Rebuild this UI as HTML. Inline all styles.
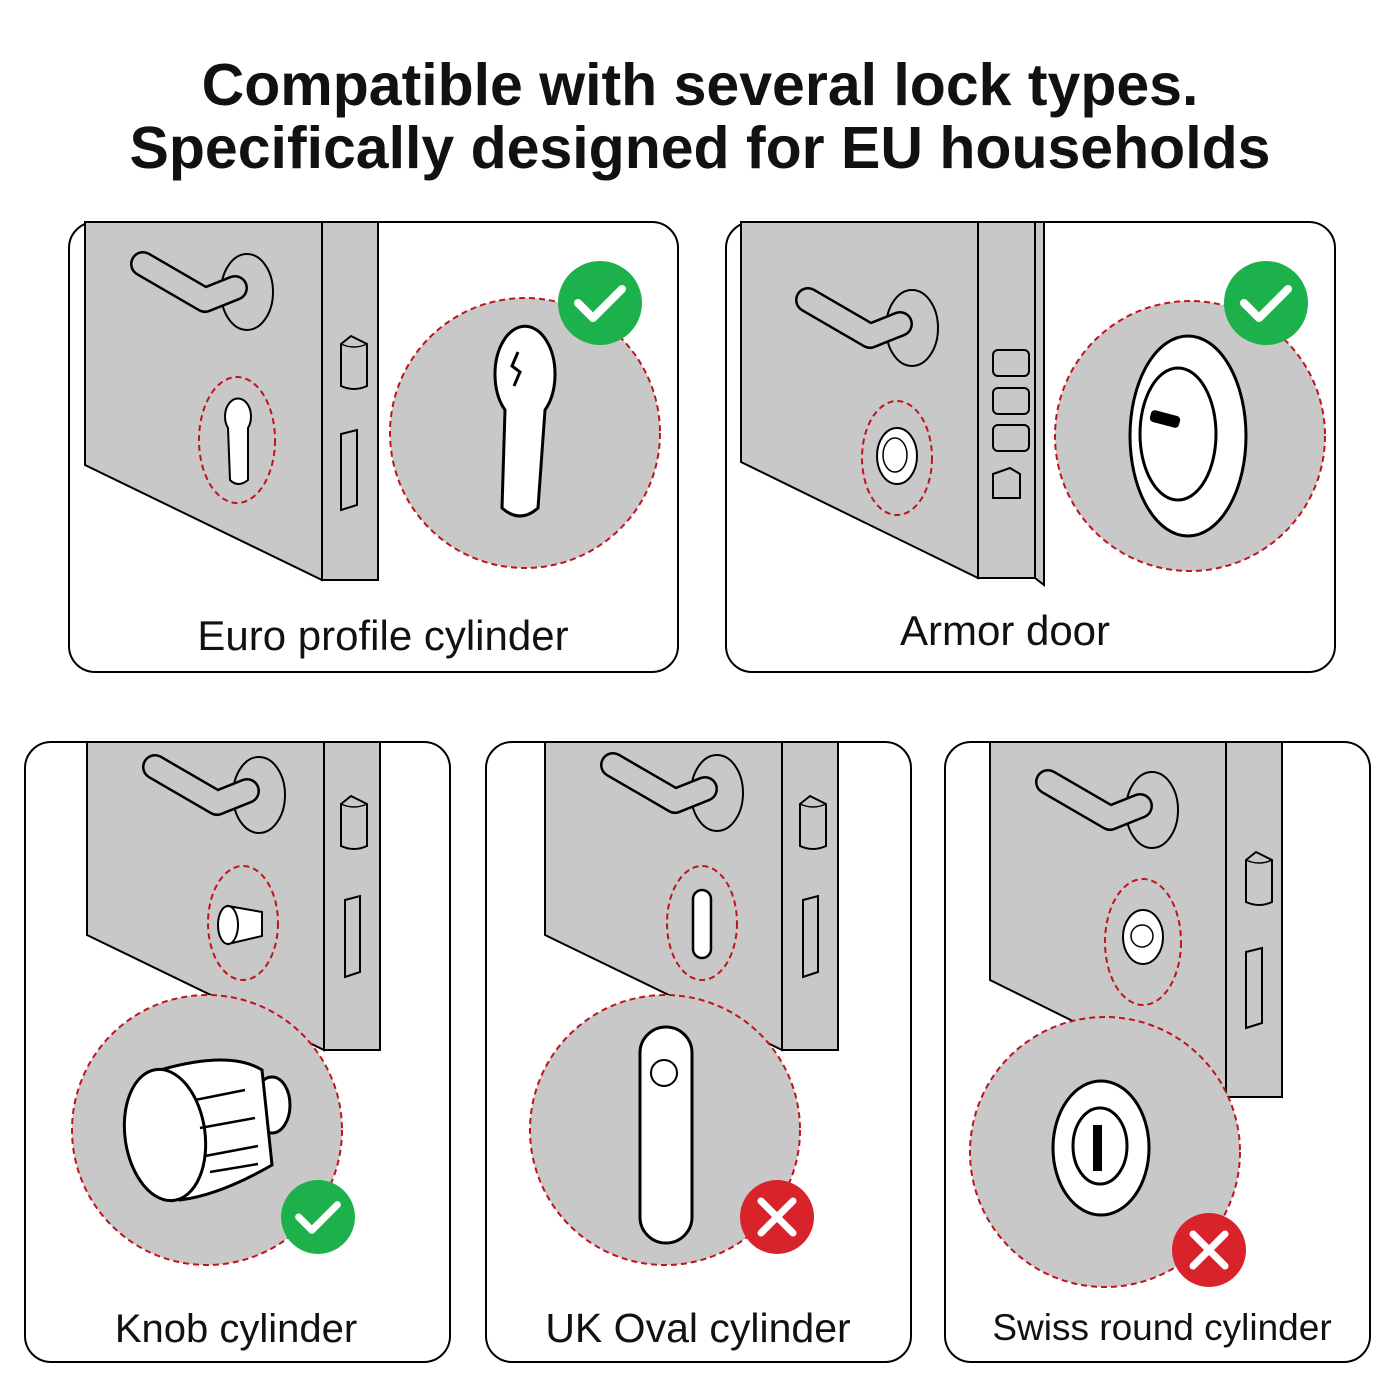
<!DOCTYPE html>
<html><head><meta charset="utf-8"><style>
html,body{margin:0;padding:0;background:#fff}
svg{display:block}
text{font-family:"Liberation Sans",Arial,sans-serif}
</style></head><body>
<svg width="1400" height="1400" viewBox="0 0 1400 1400" xmlns="http://www.w3.org/2000/svg">
<defs>
<g id="hw">
  <ellipse cx="162" cy="70" rx="26" ry="38" fill="#c8c8c8" stroke="#000" stroke-width="2"/>
  <polyline points="58,42 120,78 150,66" fill="none" stroke="#000" stroke-width="26" stroke-linecap="round" stroke-linejoin="round"/>
  <polyline points="58,42 120,78 150,66" fill="none" stroke="#c8c8c8" stroke-width="21" stroke-linecap="round" stroke-linejoin="round"/>
</g>
<g id="latch">
  <path d="M0,8 L10,0 L26,8 L26,50 Q13,56 0,50 Z" fill="#c8c8c8" stroke="#000" stroke-width="2"/>
  <path d="M0,8 Q13,14 26,8" fill="none" stroke="#000" stroke-width="1.5"/>
</g>
<g id="ok"><circle r="42" fill="#1db14b"/><polyline points="-22,0 -7,15 22,-14" fill="none" stroke="#fff" stroke-width="8" stroke-linecap="round" stroke-linejoin="round"/></g>
<g id="no"><circle r="37" fill="#d9232a"/><path d="M-16,-16 L16,16 M16,-16 L-16,16" stroke="#fff" stroke-width="7" stroke-linecap="round"/></g>
</defs>

<text x="700" y="105" text-anchor="middle" font-size="59" font-weight="bold" fill="#111">Compatible with several lock types.</text>
<text x="700" y="168" text-anchor="middle" font-size="59" font-weight="bold" fill="#111">Specifically designed for EU households</text>

<!-- Panel 1 -->
<rect x="69" y="222" width="609" height="450" rx="26" fill="#fff" stroke="#000" stroke-width="2"/>
<polygon points="85,222 322,222 322,580 85,465" fill="#c8c8c8" stroke="#000" stroke-width="2"/>
<rect x="322" y="222" width="56" height="358" fill="#c8c8c8" stroke="#000" stroke-width="2"/>
<use href="#hw" transform="translate(85,222)"/>
<use href="#latch" transform="translate(341,336)"/>
<polygon points="341,434 357,430 357,505 341,510" fill="#c8c8c8" stroke="#000" stroke-width="2"/>
<ellipse cx="237" cy="440" rx="38" ry="63" fill="none" stroke="#c0141c" stroke-width="2" stroke-dasharray="6,4"/>
<path d="M228,428 A13,18 0 1 1 248,428 L248,480 Q238,488 230,480 Z" fill="#fff" stroke="#000" stroke-width="2"/>
<circle cx="525" cy="433" r="135" fill="#c8c8c8" stroke="#c0141c" stroke-width="2" stroke-dasharray="6,4"/>
<path d="M505,410 A30,48 0 1 1 545,410 L538,508 Q520,524 502,508 Z" fill="#fff" stroke="#000" stroke-width="3"/>
<path d="M518,352 l-6,14 l8,6 l-6,14" fill="none" stroke="#000" stroke-width="3"/>
<use href="#ok" transform="translate(600,303)"/>
<text x="383" y="650" text-anchor="middle" font-size="42" fill="#111">Euro profile cylinder</text>

<!-- Panel 2 -->
<rect x="726" y="222" width="609" height="450" rx="26" fill="#fff" stroke="#000" stroke-width="2"/>
<polygon points="741,222 978,222 978,578 741,462" fill="#c8c8c8" stroke="#000" stroke-width="2"/>
<rect x="978" y="222" width="57" height="356" fill="#c8c8c8" stroke="#000" stroke-width="2"/>
<polygon points="1035,222 1044,222 1044,585 1035,578" fill="#c8c8c8" stroke="#000" stroke-width="2"/>
<use href="#hw" transform="translate(750,258)"/>
<g fill="#c8c8c8" stroke="#000" stroke-width="2">
<rect x="993" y="350" width="36" height="26" rx="5"/><rect x="993" y="388" width="36" height="26" rx="5"/>
<rect x="993" y="425" width="36" height="26" rx="5"/><path d="M993,474 L1010,468 L1020,474 L1020,498 L993,498 Z"/>
</g>
<ellipse cx="897" cy="458" rx="35" ry="57" fill="none" stroke="#c0141c" stroke-width="2" stroke-dasharray="6,4"/>
<ellipse cx="897" cy="456" rx="20" ry="28" fill="#fff" stroke="#000" stroke-width="2"/>
<ellipse cx="895" cy="455" rx="12" ry="17" fill="none" stroke="#000" stroke-width="1.5"/>
<circle cx="1190" cy="436" r="135" fill="#c8c8c8" stroke="#c0141c" stroke-width="2" stroke-dasharray="6,4"/>
<ellipse cx="1188" cy="436" rx="58" ry="100" fill="#fff" stroke="#000" stroke-width="3"/>
<ellipse cx="1178" cy="434" rx="38" ry="66" fill="none" stroke="#000" stroke-width="3"/>
<rect x="1150" y="413" width="30" height="12" rx="4" fill="#000" transform="rotate(15 1165 419)"/>
<use href="#ok" transform="translate(1266,303)"/>
<text x="1005" y="645" text-anchor="middle" font-size="42" fill="#111">Armor door</text>

<!-- Panel 3 -->
<rect x="25" y="742" width="425" height="620" rx="26" fill="#fff" stroke="#000" stroke-width="2"/>
<polygon points="87,742 324,742 324,1050 87,935" fill="#c8c8c8" stroke="#000" stroke-width="2"/>
<rect x="324" y="742" width="56" height="308" fill="#c8c8c8" stroke="#000" stroke-width="2"/>
<use href="#hw" transform="translate(97,725)"/>
<use href="#latch" transform="translate(341,796)"/>
<polygon points="345,900 360,896 360,972 345,977" fill="#c8c8c8" stroke="#000" stroke-width="2"/>
<ellipse cx="243" cy="923" rx="35" ry="57" fill="none" stroke="#c0141c" stroke-width="2" stroke-dasharray="6,4"/>
<path d="M228,906 L262,912 L262,936 L228,944 Z" fill="#fff" stroke="#000" stroke-width="2"/>
<ellipse cx="228" cy="925" rx="10" ry="19" fill="#fff" stroke="#000" stroke-width="2"/>
<circle cx="207" cy="1130" r="135" fill="#c8c8c8" stroke="#c0141c" stroke-width="2" stroke-dasharray="6,4"/>
<ellipse cx="272" cy="1105" rx="18" ry="28" fill="#fff" stroke="#000" stroke-width="3"/>
<path d="M160,1070 Q230,1050 262,1070 L272,1165 Q220,1195 180,1200 Z" fill="#fff" stroke="#000" stroke-width="3"/>
<ellipse cx="165" cy="1135" rx="40" ry="66" fill="#fff" stroke="#000" stroke-width="3" transform="rotate(-8 165 1135)"/>
<g stroke="#000" stroke-width="2.5"><line x1="195" y1="1100" x2="245" y2="1090"/><line x1="200" y1="1128" x2="255" y2="1118"/><line x1="205" y1="1156" x2="258" y2="1146"/><line x1="210" y1="1172" x2="258" y2="1164"/></g>
<use href="#ok" transform="translate(318,1217) scale(0.88)"/>
<text x="236" y="1342" text-anchor="middle" font-size="40" fill="#111">Knob cylinder</text>

<!-- Panel 4 -->
<rect x="486" y="742" width="425" height="620" rx="26" fill="#fff" stroke="#000" stroke-width="2"/>
<polygon points="545,742 782,742 782,1050 545,935" fill="#c8c8c8" stroke="#000" stroke-width="2"/>
<rect x="782" y="742" width="56" height="308" fill="#c8c8c8" stroke="#000" stroke-width="2"/>
<use href="#hw" transform="translate(555,723)"/>
<use href="#latch" transform="translate(800,796)"/>
<polygon points="803,900 818,896 818,972 803,977" fill="#c8c8c8" stroke="#000" stroke-width="2"/>
<ellipse cx="702" cy="923" rx="35" ry="57" fill="none" stroke="#c0141c" stroke-width="2" stroke-dasharray="6,4"/>
<rect x="693" y="890" width="18" height="68" rx="9" fill="#fff" stroke="#000" stroke-width="2.5"/>
<circle cx="665" cy="1130" r="135" fill="#c8c8c8" stroke="#c0141c" stroke-width="2" stroke-dasharray="6,4"/>
<rect x="640" y="1027" width="52" height="216" rx="26" fill="#fff" stroke="#000" stroke-width="3"/>
<circle cx="664" cy="1073" r="13" fill="none" stroke="#000" stroke-width="2"/>
<use href="#no" transform="translate(777,1217)"/>
<text x="698" y="1342" text-anchor="middle" font-size="41" fill="#111">UK Oval cylinder</text>

<!-- Panel 5 -->
<rect x="945" y="742" width="425" height="620" rx="26" fill="#fff" stroke="#000" stroke-width="2"/>
<polygon points="990,742 1226,742 1226,1097 990,980" fill="#c8c8c8" stroke="#000" stroke-width="2"/>
<rect x="1226" y="742" width="56" height="355" fill="#c8c8c8" stroke="#000" stroke-width="2"/>
<use href="#hw" transform="translate(990,740)"/>
<use href="#latch" transform="translate(1246,852)"/>
<polygon points="1246,952 1262,948 1262,1023 1246,1028" fill="#c8c8c8" stroke="#000" stroke-width="2"/>
<ellipse cx="1143" cy="942" rx="38" ry="63" fill="none" stroke="#c0141c" stroke-width="2" stroke-dasharray="6,4"/>
<ellipse cx="1143" cy="937" rx="20" ry="27" fill="#fff" stroke="#000" stroke-width="2"/>
<circle cx="1142" cy="936" r="11" fill="none" stroke="#000" stroke-width="1.5"/>
<circle cx="1105" cy="1152" r="135" fill="#c8c8c8" stroke="#c0141c" stroke-width="2" stroke-dasharray="6,4"/>
<ellipse cx="1101" cy="1148" rx="48" ry="67" fill="#fff" stroke="#000" stroke-width="3"/>
<ellipse cx="1100" cy="1146" rx="27" ry="38" fill="none" stroke="#000" stroke-width="3"/>
<rect x="1093" y="1125" width="9" height="46" fill="#000"/>
<use href="#no" transform="translate(1209,1250)"/>
<text x="1162" y="1340" text-anchor="middle" font-size="37" fill="#111">Swiss round cylinder</text>
</svg>
</body></html>
